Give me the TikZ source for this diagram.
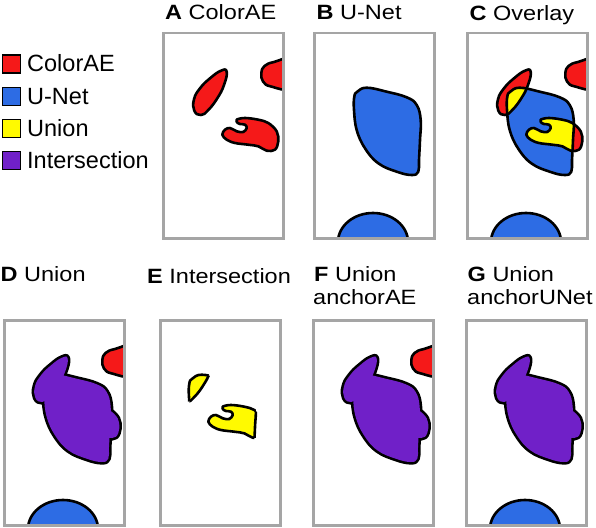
\documentclass[tikz,border=0pt]{standalone}
\usepackage{fontspec}
\setmainfont{Liberation Sans}
\definecolor{cRed}{RGB}{245,25,25}
\definecolor{cBlue}{RGB}{45,108,228}
\definecolor{cYellow}{RGB}{255,250,0}
\definecolor{cPurple}{RGB}{112,32,200}
\definecolor{cBox}{RGB}{165,165,165}
\newcommand{\mytitle}[1]{\scalebox{1}[0.88]{#1}}
\def\rOne{plot[smooth cycle, tension=0.8] coordinates {(64.7,39.7) (62,53) (55.3,66.3) (46.3,78) (39,83) (32.3,78.7) (32,67.3) (38,56.3) (48,46.3) (59,38.7)}}
\def\rTwo{plot[smooth cycle, tension=0.7] coordinates {(128,28.5) (112,30) (102.5,34) (99.3,41) (101,49.5) (109,54.5) (128,55.5)}}
\def\rThree{plot[smooth cycle, tension=0.6] coordinates {(74.7,87.7) (83,86) (96.3,87.7) (106.3,91) (114.7,99.3) (116.3,109.3) (113,117.7) (104.7,118.7) (96.3,114.3) (86.3,112.7) (73,111) (64.7,107.7) (60.3,102.7) (63,97.7) (68,96) (74.7,99.3) (81.3,100) (84.7,96) (83,92.7) (78,92) (75.7,91)}}
\def\bOne{plot[smooth cycle, tension=0.7] coordinates {(44.3,59.7) (53.7,55.7) (73.7,59.7) (93.7,65.3) (103.7,73) (107.7,88) (107,108) (106,128) (105.3,139.7) (98.7,143) (83.7,139.7) (65.3,131.3) (52,116.3) (43.7,98) (41,78) (41.3,64.7)}}
\def\bTwo{(60,210) ellipse [x radius=35, y radius=29]}
\begin{document}
\begin{tikzpicture}[x=1pt,y=-1pt,
  shapeline/.style={draw=black, line width=2.6pt, line join=round},
  panelbox/.style={draw=cBox, line width=2.5pt, anchor=north west, minimum width=120pt, minimum height=205pt, inner sep=0pt},
  lbl/.style={anchor=base west, inner sep=0pt, font=\fontsize{23.5}{28}\selectfont},
  swatch/.style={draw=black, line width=1.5pt, anchor=north west, minimum width=18pt, minimum height=18pt, inner sep=0pt}]
\useasboundingbox (0,0) rectangle (596,527);
% legend
\node[swatch, fill=cRed] (sR) at (1.5,54) {};
\node[swatch, fill=cBlue] (sB) at (1.5,86.5) {};
\node[swatch, fill=cYellow] (sY) at (1.5,118.5) {};
\node[swatch, fill=cPurple] (sP) at (1.5,150.5) {};
\node[lbl] (lR) at (27,71.5) {ColorAE};
\node[lbl] (lB) at (27,104) {U-Net};
\node[lbl] (lY) at (27,136.5) {Union};
\node[lbl] (lP) at (27,168.5) {Intersection};
% titles
\node[lbl] (tA) at (165,20) {\mytitle{\textbf{A} ColorAE}};
\node[lbl] (tB) at (316.5,20) {\mytitle{\textbf{B} U-Net}};
\node[lbl] (tC) at (469.5,20.5) {\mytitle{\textbf{C} Overlay}};
\node[lbl] (tD) at (0.5,281.5) {\mytitle{\textbf{D} Union}};
\node[lbl] (tE) at (147,283) {\mytitle{\textbf{E} Intersection}};
\node[lbl] (tF) at (314,281.5) {\mytitle{\textbf{F} Union}};
\node[lbl] (tF2) at (313,304.5) {\mytitle{anchorAE}};
\node[lbl] (tG) at (467.5,281) {\mytitle{\textbf{G} Union}};
\node[lbl] (tG2) at (467,304) {\mytitle{anchorUNet}};
% Panel A
\begin{scope}[shift={(162,32)}]
  \clip (0,0) rectangle (120,205);
  \fill[cRed] \rOne; \fill[cRed] \rTwo; \fill[cRed] \rThree;
  \draw[shapeline] \rOne; \draw[shapeline] \rTwo; \draw[shapeline] \rThree;
\end{scope}
% Panel B
\begin{scope}[shift={(313,32)}]
  \clip (0,0) rectangle (120,205);
  \fill[cBlue] \bOne; \fill[cBlue] \bTwo;
  \draw[shapeline] \bOne; \draw[shapeline] \bTwo;
\end{scope}
% Panel C
\begin{scope}[shift={(466,32)}]
  \clip (0,0) rectangle (120,205);
  \fill[cBlue] \bOne; \fill[cBlue] \bTwo;
  \fill[cRed] \rOne; \fill[cRed] \rTwo; \fill[cRed] \rThree;
  \begin{scope}
    \clip \bOne;
    \fill[cYellow] \rOne; \fill[cYellow] \rThree;
  \end{scope}
  \draw[shapeline] \bOne; \draw[shapeline] \bTwo;
  \draw[shapeline] \rOne; \draw[shapeline] \rTwo; \draw[shapeline] \rThree;
\end{scope}
% Panel D
\begin{scope}[shift={(3,319)}]
  \clip (0,0) rectangle (120,205);
  \fill[cRed] \rTwo; \draw[shapeline] \rTwo;
  \fill[cBlue] \bTwo; \draw[shapeline] \bTwo;
  \draw[shapeline, line width=5.2pt] \rOne; \draw[shapeline, line width=5.2pt] \rThree; \draw[shapeline, line width=5.2pt] \bOne;
  \fill[cPurple] \rOne; \fill[cPurple] \rThree; \fill[cPurple] \bOne;
\end{scope}
% Panel E
\begin{scope}[shift={(159,319)}]
  \clip (0,0) rectangle (120,205);
  \begin{scope}[shift={(-11,0)}]
    \begin{scope}
      \clip \bOne;
      \fill[cYellow] \rOne; \fill[cYellow] \rThree;
      \draw[shapeline] \rOne; \draw[shapeline] \rThree;
    \end{scope}
    \begin{scope}
      \clip \rOne; \draw[shapeline] \bOne;
    \end{scope}
    \begin{scope}
      \clip \rThree; \draw[shapeline] \bOne;
    \end{scope}
  \end{scope}
\end{scope}
% Panel F
\begin{scope}[shift={(312,319)}]
  \clip (0,0) rectangle (120,205);
  \fill[cRed] \rTwo; \draw[shapeline] \rTwo;
  \draw[shapeline, line width=5.2pt] \rOne; \draw[shapeline, line width=5.2pt] \rThree; \draw[shapeline, line width=5.2pt] \bOne;
  \fill[cPurple] \rOne; \fill[cPurple] \rThree; \fill[cPurple] \bOne;
\end{scope}
% Panel G
\begin{scope}[shift={(465,319)}]
  \clip (0,0) rectangle (120,205);
  \fill[cBlue] \bTwo; \draw[shapeline] \bTwo;
  \draw[shapeline, line width=5.2pt] \rOne; \draw[shapeline, line width=5.2pt] \rThree; \draw[shapeline, line width=5.2pt] \bOne;
  \fill[cPurple] \rOne; \fill[cPurple] \rThree; \fill[cPurple] \bOne;
\end{scope}
% panel frames
\node[panelbox] (bxA) at (162,32) {};
\node[panelbox] (bxB) at (313,32) {};
\node[panelbox] (bxC) at (466,32) {};
\node[panelbox] (bxD) at (3,319) {};
\node[panelbox] (bxE) at (159,319) {};
\node[panelbox] (bxF) at (312,319) {};
\node[panelbox] (bxG) at (465,319) {};
\end{tikzpicture}
\end{document}
